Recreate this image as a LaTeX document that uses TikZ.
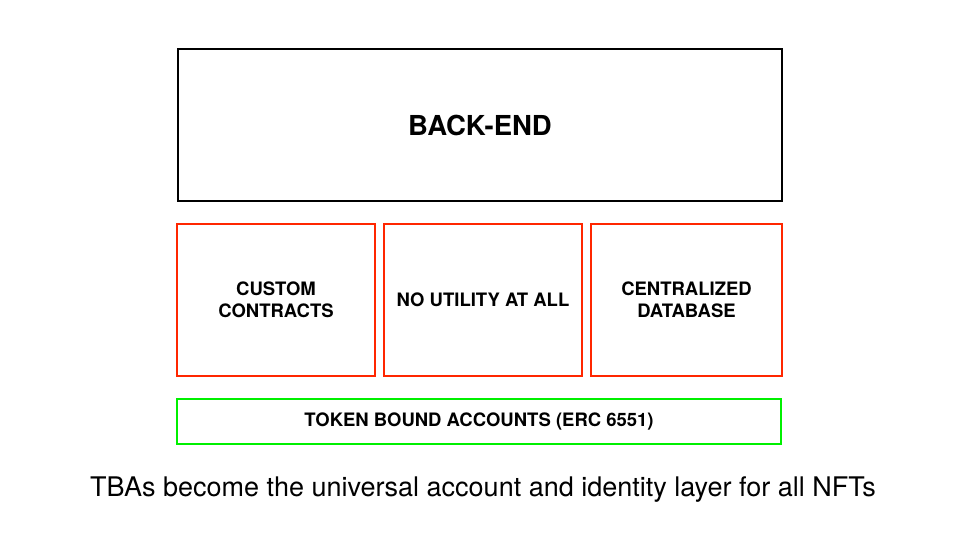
\documentclass[tikz,border=0pt]{standalone}
\usepackage{fontspec}
\setmainfont{TeX Gyre Heros}
\usepackage{tikz}
\usetikzlibrary{positioning}

\definecolor{boxred}{RGB}{255,38,0}
\definecolor{boxgreen}{RGB}{0,240,0}

\begin{document}
\begin{tikzpicture}[x=1pt, y=-1pt,
    layer/.style={draw, line width=1.5pt, inner sep=0pt, align=center, font=\bfseries},
    reason/.style={layer, draw=boxred, minimum height=152pt, font=\fontsize{18.5}{22}\selectfont\bfseries}]
    \useasboundingbox (0,0) rectangle (960,540);

    % Top layer
    \node[layer, minimum width=604pt, minimum height=152pt, font=\fontsize{27.5}{32}\selectfont\bfseries] (backend) at (480,125) {BACK-END};

    % Middle: what NFTs rely on today
    \node[reason, minimum width=198pt] (custom) at (276,300) {CUSTOM\\CONTRACTS};
    \node[reason, minimum width=198pt] (noutil) at (483,300) {NO UTILITY AT ALL};
    \node[reason, minimum width=191pt] (central) at (686.5,300) {CENTRALIZED\\DATABASE};

    % Bottom layer
    \node[layer, draw=boxgreen, minimum width=604pt, minimum height=45pt, font=\fontsize{18.5}{22}\selectfont\bfseries] (tba) at (479,421.5) {TOKEN BOUND ACCOUNTS (ERC 6551)};

    \node[font=\fontsize{27}{32}\selectfont] (caption) at (483,490) {TBAs become the universal account and identity layer for all NFTs};
\end{tikzpicture}
\end{document}
